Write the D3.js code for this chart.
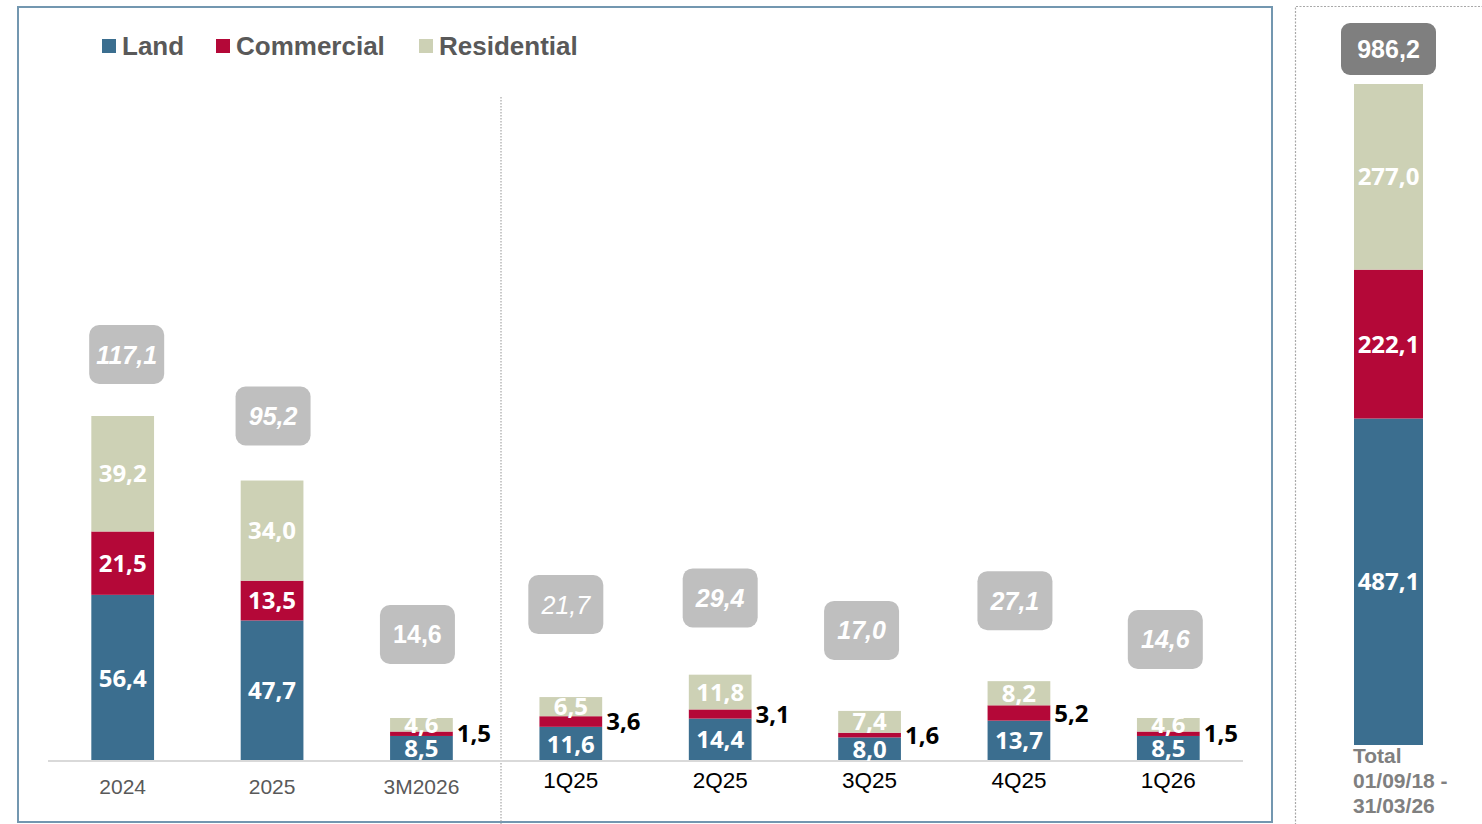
<!DOCTYPE html>
<html>
<head>
<meta charset="utf-8">
<script src="https://cdn.jsdelivr.net/npm/d3@7"></script>
<style>
  html, body { margin: 0; padding: 0; background: #fff; }
  svg { display: block; }
</style>
</head>
<body>
<svg width="1482" height="824"></svg>
<script>
// data
const categories = ['2024', '2025', '3M2026', '1Q25', '2Q25', '3Q25', '4Q25', '1Q26'];
const land = [56.4, 47.7, 8.5, 11.6, 14.4, 8.0, 13.7, 8.5];
const commercial = [21.5, 13.5, 1.5, 3.6, 3.1, 1.6, 5.2, 1.5];
const residential = [39.2, 34.0, 4.6, 6.5, 11.8, 7.4, 8.2, 4.6];
const totals = [117.1, 95.2, 14.6, 21.7, 29.4, 17.0, 27.1, 14.6];

const seriesNames = ['Land', 'Commercial', 'Residential'];
const grandValues = [487.1, 222.1, 277.0];
const grandTotal = 986.2;
const grandLabel = ['Total', '01/09/18 -', '31/03/26'];

// look
const colors = ['#3b6e8f', '#b40838', '#cdd1b5'];
const boxGap = [32, 35, 54, 63, 47, 51, 51, 49];
const boxDx = [4, 1, -4, -5, 0, -8, -4, -3];
const boxItalic = [true, true, false, true, true, true, true, true];
const boxBold = [true, true, true, false, true, true, true, true];

const fmt = v => d3.format('.1f')(v).replace('.', ',');
const labelFont = '"Open Sans", "DejaVu Sans", sans-serif';
const arial = '"Liberation Sans", Arial, sans-serif';

const svg = d3.select('svg');

// frames
svg.append('rect')
    .attr('x', 18).attr('y', 7)
    .attr('width', 1254).attr('height', 815)
    .attr('fill', 'none')
    .attr('stroke', '#7397b0')
    .attr('stroke-width', 2);

svg.append('path')
    .attr('d', 'M1295.5,1000 V6.5 H1500')
    .attr('fill', 'none')
    .attr('stroke', '#a8a8a8')
    .attr('stroke-width', 1.2)
    .attr('stroke-dasharray', '2,1.5');

const rows = categories.map((c, i) => ({
  cat: c, i,
  Land: land[i], Commercial: commercial[i], Residential: residential[i],
  total: totals[i]
}));

const stack = d3.stack().keys(seriesNames)(rows);

const x = d3.scaleBand()
    .domain(categories)
    .range([48, 1243])
    .paddingInner(0.58)
    .paddingOuter(0.29);

const y = d3.scaleLinear()
    .domain([0, 117.1])
    .range([761, 416]);

// separator between annual and quarterly
svg.append('line')
    .attr('x1', 501).attr('x2', 501)
    .attr('y1', 97).attr('y2', 824)
    .attr('stroke', '#a6a6a6')
    .attr('stroke-width', 1.2)
    .attr('stroke-dasharray', '1.5,1.5');

// bars
const layers = svg.append('g').selectAll('g')
  .data(stack)
  .join('g')
    .attr('fill', (d, k) => colors[k]);

layers.selectAll('rect')
  .data(d => d)
  .join('rect')
    .attr('x', d => x(d.data.cat))
    .attr('y', d => y(d[1]))
    .attr('width', x.bandwidth())
    .attr('height', d => y(d[0]) - y(d[1]));

// baseline
svg.append('line')
    .attr('x1', 48).attr('x2', 1243)
    .attr('y1', 761).attr('y2', 761)
    .attr('stroke', '#d9d9d9')
    .attr('stroke-width', 2);

// segment labels
const segLabels = [];
stack.forEach((layer, k) => {
  layer.forEach(d => {
    const inside = !(k === 1 && d.data.i >= 2);
    segLabels.push({
      text: fmt(d.data[seriesNames[k]]),
      x: inside ? x(d.data.cat) + x.bandwidth() / 2 : x(d.data.cat) + x.bandwidth() + 4,
      y: (y(d[0]) + y(d[1])) / 2,
      inside
    });
  });
});

svg.append('g').selectAll('text')
  .data(segLabels)
  .join('text')
    .attr('x', d => d.x)
    .attr('y', d => d.y)
    .attr('dy', '0.36em')
    .attr('text-anchor', d => d.inside ? 'middle' : 'start')
    .attr('fill', d => d.inside ? '#fff' : '#000')
    .attr('font-family', labelFont)
    .attr('font-weight', 700)
    .attr('font-size', 24)
    .text(d => d.text);

// total boxes
const boxes = svg.append('g').selectAll('g')
  .data(rows)
  .join('g')
    .attr('transform', d => {
      const cx = x(d.cat) + x.bandwidth() / 2 + boxDx[d.i];
      const bottom = y(d.total) - boxGap[d.i];
      return `translate(${cx},${bottom - 29.5})`;
    });

boxes.append('rect')
    .attr('x', -37.5).attr('y', -29.5)
    .attr('width', 75).attr('height', 59)
    .attr('rx', 10)
    .attr('fill', '#bfbfbf');

boxes.append('text')
    .attr('text-anchor', 'middle')
    .attr('dy', '0.36em')
    .attr('fill', '#fff')
    .attr('font-family', arial)
    .attr('font-size', 25)
    .attr('font-style', d => boxItalic[d.i] ? 'italic' : 'normal')
    .attr('font-weight', d => boxBold[d.i] ? 700 : 400)
    .text(d => fmt(d.total));

// category labels
svg.append('g').selectAll('text')
  .data(rows)
  .join('text')
    .attr('x', d => x(d.cat) + x.bandwidth() / 2)
    .attr('y', d => d.i < 3 ? 794 : 788)
    .attr('text-anchor', 'middle')
    .attr('fill', d => d.i < 3 ? '#595959' : '#000')
    .attr('font-family', arial)
    .attr('font-size', d => d.i < 3 ? 21 : 22.5)
    .text(d => d.cat);

// legend
const legendX = [102, 216, 419];
const legend = svg.append('g').selectAll('g')
  .data(seriesNames)
  .join('g')
    .attr('transform', (d, k) => `translate(${legendX[k]},39)`);

legend.append('rect')
    .attr('width', 14).attr('height', 14)
    .attr('fill', (d, k) => colors[k]);

legend.append('text')
    .attr('x', 20).attr('y', 16)
    .attr('fill', '#595959')
    .attr('font-family', arial)
    .attr('font-weight', 700)
    .attr('font-size', 26)
    .text(d => d);

// cumulative bar on the right
const yR = d3.scaleLinear().domain([0, grandTotal]).range([745, 84]);
const grandStack = [];
let acc = 0;
grandValues.forEach((v, k) => {
  grandStack.push({ k, v, y0: acc, y1: acc + v });
  acc += v;
});

const right = svg.append('g');
right.selectAll('rect')
  .data(grandStack)
  .join('rect')
    .attr('x', 1354)
    .attr('width', 69)
    .attr('y', d => yR(d.y1))
    .attr('height', d => yR(d.y0) - yR(d.y1))
    .attr('fill', d => colors[d.k]);

right.selectAll('text.seg')
  .data(grandStack)
  .join('text')
    .attr('class', 'seg')
    .attr('x', 1388.5)
    .attr('y', d => (yR(d.y0) + yR(d.y1)) / 2)
    .attr('dy', '0.36em')
    .attr('text-anchor', 'middle')
    .attr('fill', '#fff')
    .attr('font-family', labelFont)
    .attr('font-weight', 700)
    .attr('font-size', 24)
    .text(d => fmt(d.v));

right.append('rect')
    .attr('x', 1341).attr('y', 23)
    .attr('width', 95).attr('height', 52)
    .attr('rx', 9)
    .attr('fill', '#7f7f7f');

right.append('text')
    .attr('x', 1388.5).attr('y', 49)
    .attr('dy', '0.36em')
    .attr('text-anchor', 'middle')
    .attr('fill', '#fff')
    .attr('font-family', arial)
    .attr('font-weight', 700)
    .attr('font-size', 25)
    .text(fmt(grandTotal));

right.selectAll('text.total')
  .data(grandLabel)
  .join('text')
    .attr('class', 'total')
    .attr('x', 1353)
    .attr('y', (d, k) => 763 + k * 25)
    .attr('fill', '#808080')
    .attr('font-family', arial)
    .attr('font-weight', 700)
    .attr('font-size', 21)
    .text(d => d);
</script>
</body>
</html>
